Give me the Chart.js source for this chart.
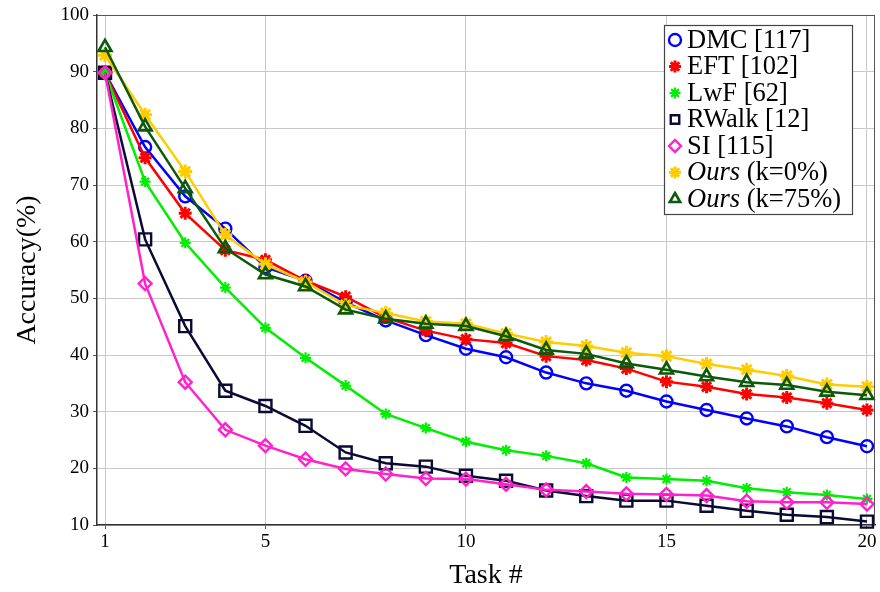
<!DOCTYPE html>
<html>
<head>
<meta charset="utf-8">
<script src="https://cdn.jsdelivr.net/npm/chart.js@4/dist/chart.umd.min.js"></script>
<style>
html,body{margin:0;padding:0;background:#fff;}
#wrap{position:relative;width:880px;height:592px;}
</style>
</head>
<body>
<div id="wrap"><canvas id="c" width="880" height="592"></canvas></div>
<script>
const tasks = [1,2,3,4,5,6,7,8,9,10,11,12,13,14,15,16,17,18,19,20];
const xTicks = [1,5,10,15,20];
const dmc    = [89.8,76.7,68.0,62.3,55.5,53.1,49.3,46.1,43.5,41.1,39.6,36.9,35.0,33.7,31.8,30.3,28.8,27.4,25.5,23.9];
const eft    = [89.8,74.8,65.0,58.5,56.8,53.1,50.3,46.6,44.3,42.8,42.1,39.8,39.1,37.6,35.3,34.4,33.1,32.5,31.5,30.3];
const lwf    = [89.8,70.6,59.8,51.9,44.8,39.5,34.6,29.6,27.1,24.7,23.2,22.2,20.9,18.4,18.1,17.8,16.5,15.8,15.3,14.6];
const rwalk  = [89.8,60.4,45.1,33.7,31.0,27.5,22.8,20.9,20.3,18.7,17.8,16.1,15.1,14.3,14.3,13.4,12.5,11.8,11.4,10.6];
const si     = [89.8,52.6,35.2,26.8,24.0,21.6,19.9,19.0,18.2,18.1,17.2,16.2,15.9,15.5,15.4,15.2,14.2,14.0,14.0,13.7];
const ours0  = [92.9,82.4,72.4,61.2,56.0,52.9,48.8,47.4,45.9,45.5,43.8,42.3,41.6,40.4,39.8,38.4,37.4,36.3,34.8,34.4];
const ours75 = [94.3,80.3,69.4,58.8,54.2,52.1,48.0,46.4,45.5,45.1,43.3,40.9,40.2,38.5,37.4,36.2,35.2,34.7,33.5,32.9];

const seriesNames = ['DMC [117]','EFT [102]','LwF [62]','RWalk [12]','SI [115]','Ours (k=0%)','Ours (k=75%)'];

const FONT = "'Liberation Serif', 'DejaVu Serif', serif";

function pts(arr){ return arr.map((v,i)=>({x:tasks[i], y:v})); }

const styles = [
  {data:dmc,    color:'#0000ff', ps:'circle',   r:6,   bw:2.4, bg:'rgba(0,0,0,0)'},
  {data:eft,    color:'#ff0000', ps:'star',     r:6.5, bw:3.0, bg:'#ff0000'},
  {data:lwf,    color:'#00ee00', ps:'star',     r:5.5, bw:2.2, bg:'#00ee00'},
  {data:rwalk,  color:'#0a0a35', ps:'rect',     r:8.5, bw:2.4, bg:'rgba(0,0,0,0)'},
  {data:si,     color:'#ff22cc', ps:'rectRot',  r:6.5, bw:2.4, bg:'rgba(0,0,0,0)'},
  {data:ours0,  color:'#ffcc00', ps:'star',     r:7,   bw:3.0, bg:'#ffcc00'},
  {data:ours75, color:'#0a5a0a', ps:'triangle', r:7.5, bw:2.6, bg:'rgba(0,0,0,0)'}
];

const datasets = styles.map((s,i)=>({
  label: seriesNames[i],
  data: pts(s.data),
  borderColor: s.color,
  backgroundColor: s.bg,
  pointBorderColor: s.color,
  pointBackgroundColor: s.bg,
  pointStyle: s.ps,
  pointRadius: s.r,
  pointBorderWidth: s.bw,
  borderWidth: 2.5,
  tension: 0,
  clip: false,
  order: styles.length - i
}));

function drawMarker(ctx, s, x, y){
  ctx.save();
  ctx.strokeStyle = s.color;
  ctx.fillStyle = s.bg;
  ctx.lineWidth = s.bw;
  if (Chart.helpers && Chart.helpers.drawPoint){
    Chart.helpers.drawPoint(ctx, {pointStyle:s.ps, radius:Math.min(s.r,6), rotation:0, borderWidth:s.bw}, x, y);
  }
  ctx.restore();
}

const framePlugin = {
  id:'frame',
  afterDatasetsDraw(chart){
    const a = chart.chartArea, ctx = chart.ctx;
    ctx.save();
    ctx.strokeStyle = '#555';
    ctx.lineWidth = 1;
    ctx.beginPath();
    ctx.moveTo(a.left, a.top+0.5); ctx.lineTo(a.right, a.top+0.5);
    ctx.moveTo(a.right-0.5, a.top); ctx.lineTo(a.right-0.5, a.bottom);
    ctx.stroke();
    // legend
    const lx=664, ly=25, lw=188, lh=189;
    ctx.fillStyle='#fff';
    ctx.fillRect(lx,ly,lw,lh);
    ctx.strokeStyle='#444';
    ctx.lineWidth=1.2;
    ctx.strokeRect(lx+0.5,ly+0.5,lw,lh);
    ctx.textBaseline='middle';
    for(let i=0;i<styles.length;i++){
      const y = 40 + i*26.5;
      drawMarker(ctx, styles[i], 675, y);
      ctx.fillStyle='#000';
      const name = seriesNames[i];
      let tx = 687;
      if(name.startsWith('Ours')){
        ctx.font = "italic 26.5px " + FONT;
        ctx.fillText('Ours', tx, y+1);
        tx += ctx.measureText('Ours').width;
        ctx.font = "26.5px " + FONT;
        ctx.fillText(name.slice(4), tx, y+1);
      } else {
        ctx.font = "26.5px " + FONT;
        ctx.fillText(name, tx, y+1);
      }
    }
    ctx.restore();
  }
};

new Chart(document.getElementById('c'), {
  type:'line',
  data:{datasets},
  plugins:[framePlugin],
  options:{
    responsive:false,
    animation:false,
    layout:{autoPadding:false, padding:{top:15,right:5,left:0,bottom:0}},
    plugins:{legend:{display:false}, tooltip:{enabled:false}},
    scales:{
      x:{
        type:'linear', min:0.8, max:20.2,
        afterBuildTicks(scale){ scale.ticks = xTicks.map(v=>({value:v})); },
        afterFit(scale){ scale.height = 67; scale.paddingRight = 0; scale.paddingLeft = 0; },
        grid:{color:'#c8c8c8', lineWidth:1, drawTicks:true, tickLength:4, tickColor:'#555'},
        border:{color:'#333', width:1.5},
        ticks:{color:'#000', font:{family:FONT, size:19}, padding:2, maxRotation:0,
               callback:(v)=>String(v)},
        title:{display:true, text:'Task #', color:'#000', font:{family:FONT, size:28}, padding:{top:0,bottom:0}}
      },
      y:{
        type:'linear', min:10, max:100,
        afterFit(scale){ scale.width = 97; scale.paddingTop = 0; scale.paddingBottom = 0; },
        grid:{color:'#c8c8c8', lineWidth:1, drawTicks:true, tickLength:4, tickColor:'#555'},
        border:{color:'#333', width:1.5},
        ticks:{stepSize:10, color:'#000', font:{family:FONT, size:19}, padding:4},
        title:{display:true, text:'Accuracy(%)', color:'#000', font:{family:FONT, size:28}, padding:{top:11,bottom:0}}
      }
    }
  }
});
</script>
</body>
</html>
